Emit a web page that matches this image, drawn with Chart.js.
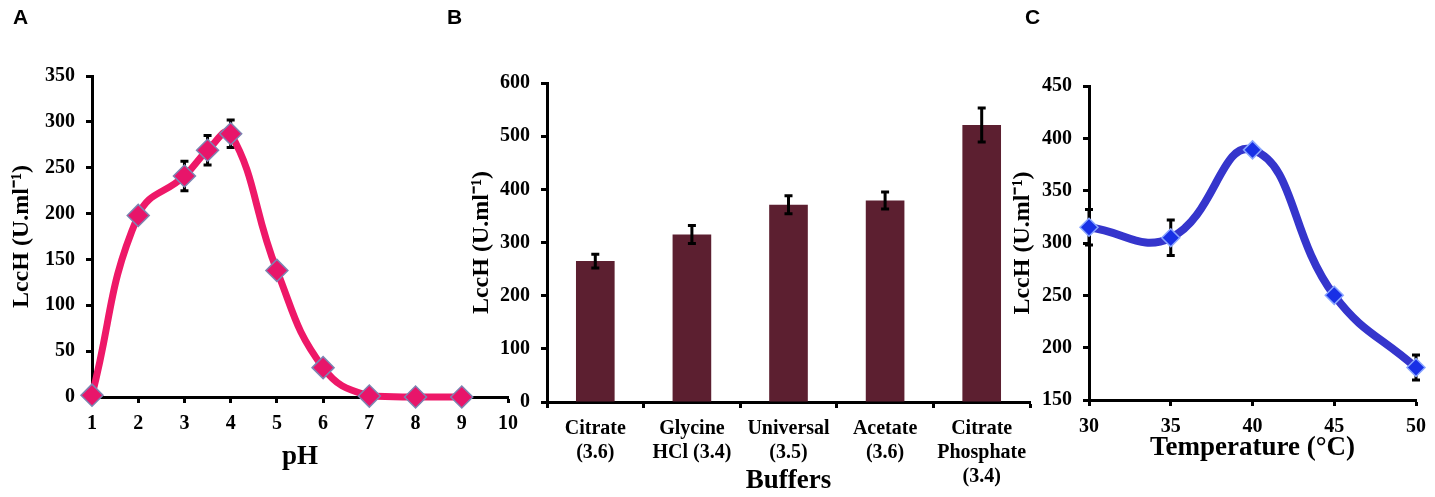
<!DOCTYPE html>
<html>
<head>
<meta charset="utf-8">
<script src="https://cdn.jsdelivr.net/npm/chart.js@4.4.1/dist/chart.umd.min.js"></script>
<style>
  body { margin: 0; background: #fff; }
  #wrap { position: relative; width: 1435px; height: 497px; overflow: hidden; }
  #wrap canvas { position: absolute; left: 0; top: 0; }
  .tag { position: absolute; font: bold 21px "Liberation Sans", Arial, sans-serif; color: #000; }
</style>
</head>
<body>
<div id="wrap">
  <canvas id="chartA" width="1435" height="497"></canvas>
  <canvas id="chartB" width="1435" height="497"></canvas>
  <canvas id="chartC" width="1435" height="497"></canvas>
  <div class="tag" style="left:13px;top:5px">A</div>
  <div class="tag" style="left:447px;top:5px">B</div>
  <div class="tag" style="left:1025px;top:5px">C</div>
</div>
<script>
// panel A - pH
const phValues = [1, 2, 3, 3.5, 4, 5, 6, 7, 8, 9];
const phActivity = [2, 198, 241, 269, 287, 138, 32, 1, 0, 0];
const phErrors = [0, 5, 16, 16, 15, 3, 3, 0, 0, 0];

// panel B - buffers
const bufferLabels = [['Citrate', '(3.6)'], ['Glycine', 'HCl (3.4)'], ['Universal', '(3.5)'], ['Acetate', '(3.6)'], ['Citrate', 'Phosphate', '(3.4)']];
const bufferActivity = [265, 315, 371, 379, 521];
const bufferErrors = [13, 17, 17, 16, 32];

// panel C - temperature
const tempValues = [30, 35, 40, 45, 50];
const tempActivity = [315, 305, 389, 250, 181];
const tempErrors = [17, 17, 0, 0, 12];

const yTitle = 'LccH (U.ml\u207B\u00B9)';
const serif = '"Liberation Serif", "Times New Roman", serif';

function errorBars(errors, before) {
  const draw = function(chart) {
    const ctx = chart.ctx;
    const meta = chart.getDatasetMeta(0);
    const ys = chart.scales.y;
    const vals = chart.data.datasets[0].data;
    ctx.save();
    ctx.strokeStyle = '#000';
    ctx.lineWidth = 3;
    meta.data.forEach(function(el, i) {
      const e = errors[i];
      if (!e) return;
      const v = typeof vals[i] === 'object' ? vals[i].y : vals[i];
      const x = el.x;
      const y1 = ys.getPixelForValue(v + e);
      const y2 = ys.getPixelForValue(v - e);
      ctx.beginPath();
      ctx.moveTo(x, y1); ctx.lineTo(x, y2);
      ctx.moveTo(x - 4, y1); ctx.lineTo(x + 4, y1);
      ctx.moveTo(x - 4, y2); ctx.lineTo(x + 4, y2);
      ctx.stroke();
    });
    ctx.restore();
  };
  return before ? { id: 'err', beforeDatasetsDraw: draw } : { id: 'err', afterDatasetsDraw: draw };
}

function yAxis(min, max, step, width) {
  return {
    min: min, max: max,
    border: { color: '#000', width: 3 },
    grid: { drawOnChartArea: false, tickLength: 6, tickWidth: 3, tickColor: '#000' },
    ticks: { stepSize: step, color: '#000', padding: 11, font: { family: serif, size: 20, weight: 'bold' } },
    title: { display: true, text: yTitle, color: '#000', padding: { top: 7, bottom: 0 },
             font: { family: serif, size: 24, weight: 'bold', lineHeight: 1.2 } },
    afterFit: function(s) { s.width = width; }
  };
}

function xTitle(text, pb) {
  return { display: true, text: text, color: '#000', padding: { top: 0, bottom: pb },
           font: { family: serif, size: 27, weight: 'bold', lineHeight: 1.2 } };
}

const xTicks = { color: '#000', padding: 9, font: { family: serif, size: 20, weight: 'bold', lineHeight: 1.2 } };
const xGrid = { drawOnChartArea: false, tickLength: 6, tickWidth: 3, tickColor: '#000' };

// A
new Chart(document.getElementById('chartA'), {
  type: 'line',
  data: {
    datasets: [{
      data: phValues.map((x, i) => ({ x: x, y: phActivity[i] })),
      borderColor: '#ee1868',
      borderWidth: 7,
      tension: 0.45,
      pointStyle: 'rectRot',
      pointRadius: 11,
      pointBackgroundColor: '#e8156a',
      pointBorderColor: '#7d84b2',
      pointBorderWidth: 1.5
    }]
  },
  options: {
    responsive: false,
    animation: false,
    clip: false,
    layout: { padding: { left: 0, top: 76, right: 927, bottom: 0 } },
    plugins: { legend: { display: false }, tooltip: { enabled: false } },
    scales: {
      x: {
        type: 'linear', min: 1, max: 10,
        border: { color: '#000', width: 3 },
        grid: xGrid,
        ticks: Object.assign({ stepSize: 1 }, xTicks),
        title: xTitle('pH', 24),
        afterFit: function(s) { s.height = 100; }
      },
      y: yAxis(0, 350, 50, 92)
    }
  },
  plugins: [errorBars(phErrors, true)]
});

// B
new Chart(document.getElementById('chartB'), {
  type: 'bar',
  data: {
    labels: bufferLabels,
    datasets: [{
      data: bufferActivity,
      backgroundColor: '#5c1f30',
      categoryPercentage: 1,
      barPercentage: 0.4
    }]
  },
  options: {
    responsive: false,
    animation: false,
    layout: { padding: { left: 460, top: 83, right: 405, bottom: 0 } },
    plugins: { legend: { display: false }, tooltip: { enabled: false } },
    scales: {
      x: {
        border: { color: '#000', width: 3 },
        grid: Object.assign({ offset: true }, xGrid),
        ticks: Object.assign({}, xTicks, { maxRotation: 0, autoSkip: false }),
        title: xTitle('Buffers', 0),
        afterFit: function(s) { s.height = 95; }
      },
      y: yAxis(0, 600, 100, 87)
    }
  },
  plugins: [errorBars(bufferErrors, false)]
});

// C
new Chart(document.getElementById('chartC'), {
  type: 'line',
  data: {
    datasets: [{
      data: tempValues.map((x, i) => ({ x: x, y: tempActivity[i] })),
      borderColor: '#3535cc',
      borderWidth: 8,
      tension: 0.45,
      pointStyle: 'rectRot',
      pointRadius: 9,
      pointBackgroundColor: '#1830e6',
      pointBorderColor: '#8aa6ff',
      pointBorderWidth: 1.5
    }]
  },
  options: {
    responsive: false,
    animation: false,
    clip: false,
    layout: { padding: { left: 1001, top: 86, right: 18, bottom: 0 } },
    plugins: { legend: { display: false }, tooltip: { enabled: false } },
    scales: {
      x: {
        type: 'linear', min: 30, max: 50,
        border: { color: '#000', width: 3 },
        grid: xGrid,
        ticks: Object.assign({ stepSize: 5 }, xTicks),
        title: xTitle('Temperature (\u00B0C)', 33),
        afterFit: function(s) { s.height = 97; }
      },
      y: yAxis(150, 450, 50, 88)
    }
  },
  plugins: [errorBars(tempErrors, true)]
});
</script>
</body>
</html>
